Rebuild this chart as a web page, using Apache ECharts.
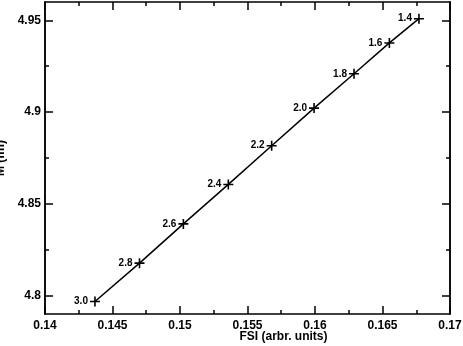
<!DOCTYPE html>
<html>
<head>
<meta charset="utf-8">
<script src="https://cdn.jsdelivr.net/npm/echarts@6/dist/echarts.min.js"></script>
<style>
  html, body { margin: 0; padding: 0; background: #fff; }
  #chart { width: 463px; height: 346px; }
</style>
</head>
<body>
<div id="chart"></div>
<script>
// 数据
const fsiValues = [0.1437, 0.1470, 0.15025, 0.15358, 0.15679, 0.15993, 0.16289, 0.16551, 0.1677];
const massValues = [4.7968, 4.8177, 4.8391, 4.8606, 4.8817, 4.9022, 4.9209, 4.9377, 4.9509];
const pointLabels = ['3.0', '2.8', '2.6', '2.4', '2.2', '2.0', '1.8', '1.6', '1.4'];
const yMajorTicks = [4.8, 4.85, 4.9, 4.95];
const yMinorTicks = [4.825, 4.875, 4.925];

const font = 'Liberation Sans';
const plusPath = 'path://M4.2,0H5.8V4.2H10V5.8H5.8V10H4.2V5.8H0V4.2H4.2Z';

const chart = echarts.init(document.getElementById('chart'));

function xAxisDef(position, withLabels) {
    return {
        type: 'value',
        position: position,
        min: 0.14,
        max: 0.17,
        interval: 0.005,
        name: withLabels ? 'FSI (arbr. units)' : '',
        nameLocation: 'middle',
        nameGap: 17,
        nameMoveOverlap: false,
        nameTextStyle: {
            fontFamily: font, fontWeight: 'bold', fontSize: 12, color: '#000',
            padding: [0, 0, 0, 72]
        },
        axisLine: { show: true, lineStyle: { color: '#000', width: 1.5 } },
        axisTick: { show: true, inside: true, length: 8, lineStyle: { color: '#000', width: 1.5 } },
        minorTick: { show: true, splitNumber: 2, length: 4, lineStyle: { color: '#000', width: 1.5 } },
        axisLabel: {
            show: withLabels, margin: 6,
            fontFamily: font, fontWeight: 'bold', fontSize: 12, color: '#000',
            formatter: v => String(+v.toFixed(3))
        },
        splitLine: { show: false }
    };
}

function yAxisDef(position, ticks, tickLen, withLabels) {
    return {
        type: 'value',
        position: position,
        min: 4.79,
        max: 4.96,
        name: withLabels ? 'M (fm)' : '',
        nameLocation: 'middle',
        nameRotate: 90,
        nameGap: 28,
        nameTextStyle: { fontFamily: font, fontWeight: 'bold', fontSize: 12, color: '#000' },
        axisLine: { show: true, lineStyle: { color: '#000', width: 1.5 } },
        axisTick: { show: true, inside: true, length: tickLen, customValues: ticks, lineStyle: { color: '#000', width: 1.5 } },
        axisLabel: {
            show: withLabels, margin: 4, customValues: ticks,
            fontFamily: font, fontWeight: 'bold', fontSize: 12, color: '#000',
            formatter: v => String(+v.toFixed(3))
        },
        splitLine: { show: false }
    };
}

const option = {
    animation: false,
    backgroundColor: '#fff',
    grid: { left: 45, right: 13, top: 2, bottom: 32, containLabel: false, outerBoundsMode: 'none' },
    xAxis: [
        xAxisDef('bottom', true),
        xAxisDef('top', false)
    ],
    yAxis: [
        yAxisDef('left', yMajorTicks, 8, true),
        yAxisDef('left', yMinorTicks, 4, false),
        yAxisDef('right', yMajorTicks, 8, false),
        yAxisDef('right', yMinorTicks, 4, false)
    ],
    series: [{
        type: 'line',
        xAxisIndex: 0,
        yAxisIndex: 0,
        data: fsiValues.map((x, i) => [x, massValues[i]]),
        symbol: plusPath,
        symbolSize: 10,
        lineStyle: { color: '#000', width: 1.5 },
        itemStyle: { color: '#000' },
        label: {
            show: true,
            position: 'left',
            distance: 2,
            fontFamily: font,
            fontWeight: 'bold',
            fontSize: 10,
            color: '#000',
            formatter: p => pointLabels[p.dataIndex]
        }
    }]
};

chart.setOption(option);
</script>
</body>
</html>
